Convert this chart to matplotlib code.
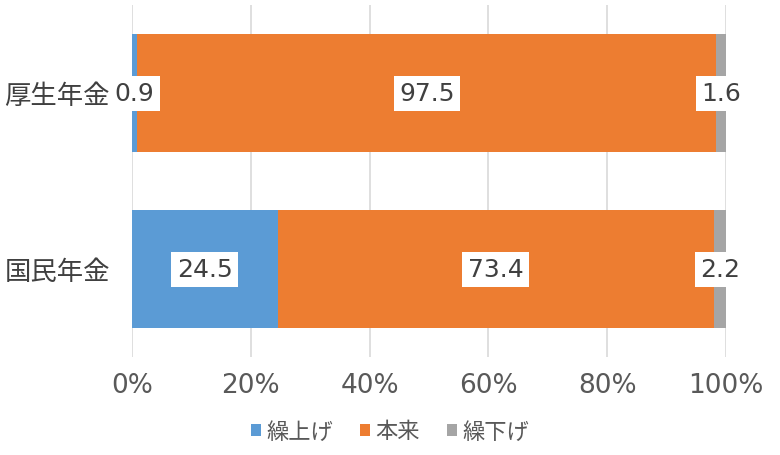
import matplotlib
matplotlib.use("Agg")
import matplotlib.pyplot as plt
from matplotlib.patches import Patch

plt.rcParams['font.family'] = ['DejaVu Sans', 'Noto Sans CJK JP']

# datos
categorias = ["国民年金", "厚生年金"]
series = ["繰上げ", "本来", "繰下げ"]
kuriage = [24.5, 0.9]
honrai = [73.4, 97.5]
kurisage = [2.2, 1.6]
colores = ["#5B9BD5", "#ED7D31", "#A5A5A5"]
ticks = [0, 20, 40, 60, 80, 100]
tick_labels = ["0%", "20%", "40%", "60%", "80%", "100%"]

fig = plt.figure(figsize=(7.8, 4.56), dpi=100)
ax = fig.add_axes([132/780, 1 - 358/456, (726 - 132)/780, 352/456])

valores = [kuriage, honrai, kurisage]
izq = [0.0, 0.0]
y = list(range(len(categorias)))
for nombre, vals, col in zip(series, valores, colores):
    ax.barh(y, vals, left=izq, height=0.665, color=col, label=nombre, zorder=3)
    for i, v in enumerate(vals):
        ax.text(izq[i] + v / 2, y[i], f"{v}", ha="center", va="center",
                fontsize=18, color="#404040", zorder=5,
                bbox=dict(facecolor="white", edgecolor="none", pad=4))
    izq = [a + b for a, b in zip(izq, vals)]

ax.set_xlim(0, 100)
ax.set_ylim(-0.5, 1.5)
ax.set_xticks(ticks)
ax.set_xticklabels(tick_labels)
ax.set_yticks(y)
ax.set_yticklabels(categorias, family=['Noto Sans CJK JP', 'DejaVu Sans'])
ax.tick_params(axis="x", labelsize=19, colors="#595959", length=0, pad=11)
ax.tick_params(axis="y", labelsize=19, colors="#404040", length=0, pad=16)
ax.grid(axis="x", color="#D9D9D9", linewidth=1.2, zorder=0)
for s in ax.spines.values():
    s.set_visible(False)

handles = [Patch(facecolor=c, edgecolor="none") for c in colores]
fig.legend(handles, series, loc="center", bbox_to_anchor=(0.5, 1 - 432/456),
           ncol=3, frameon=False, handlelength=0.45, handleheight=0.45,
           handletextpad=0.25, columnspacing=1.2, labelcolor="#595959",
           prop={'family': ['Noto Sans CJK JP', 'DejaVu Sans'], 'size': 16})

fig.savefig("out.png", dpi=100)
